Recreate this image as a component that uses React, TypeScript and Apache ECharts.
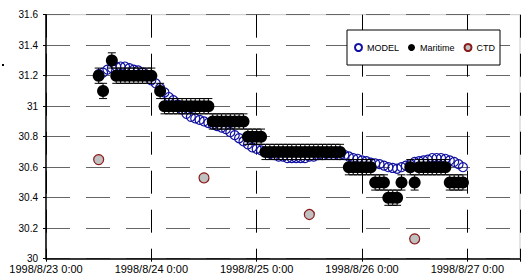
import React, { useEffect, useRef } from 'react';
import * as echarts from 'echarts';

// Hours are counted from 1998/8/23 0:00
const xTickLabels = ['1998/8/23 0:00', '1998/8/24 0:00', '1998/8/25 0:00', '1998/8/26 0:00', '1998/8/27 0:00'];

const modelHours = [
  12, 13, 14, 15, 16, 17, 18, 19, 20, 21, 22, 23, 24, 25, 26, 27, 28, 29, 30, 31, 32, 33, 34, 35,
  36, 37, 38, 39, 40, 41, 42, 43, 44, 45, 46, 47, 48, 49, 50, 51, 52, 53, 54, 55, 56, 57, 58, 59,
  60, 61, 62, 63, 64, 65, 66, 67, 68, 69, 70, 71, 72, 73, 74, 75, 76, 77, 78, 79, 80, 81, 82, 83,
  84, 85, 86, 87, 88, 89, 90, 91, 92, 93, 94, 95,
];
const modelValues = [
  31.21, 31.22, 31.24, 31.25, 31.26, 31.26, 31.26, 31.25, 31.24, 31.235, 31.22, 31.2, 31.17, 31.15, 31.12, 31.09, 31.06, 31.04, 31.01, 30.98, 30.95, 30.93, 30.92, 30.91,
  30.9, 30.89, 30.88, 30.87, 30.86, 30.85, 30.83, 30.81, 30.79, 30.77, 30.75, 30.73, 30.72, 30.71, 30.7, 30.69, 30.68, 30.67, 30.67, 30.66, 30.66, 30.66, 30.66, 30.66,
  30.67, 30.67, 30.68, 30.68, 30.69, 30.69, 30.69, 30.68, 30.68, 30.67, 30.66, 30.655, 30.645, 30.64, 30.63, 30.625, 30.62, 30.61, 30.6, 30.595, 30.59, 30.6, 30.61, 30.62,
  30.635, 30.64, 30.645, 30.65, 30.66, 30.66, 30.66, 30.655, 30.645, 30.635, 30.62, 30.6,
];

const maritimeHours = [
  12, 13, 15, 16, 17, 18, 19, 20, 21, 22, 23, 24, 26, 27, 28, 29, 30, 31, 32, 33, 34, 35, 36,
  37, 38, 39, 40, 41, 42, 43, 44, 45, 46, 47, 48, 49, 50, 51, 52, 53, 54, 55, 56, 57, 58, 59,
  60, 61, 62, 63, 64, 65, 66, 67, 69, 70, 71, 72, 73, 74, 75, 76, 77, 78, 79, 80, 81, 83, 84,
  85, 86, 87, 88, 89, 90, 91, 92, 93, 94, 95,
];
const maritimeValues = [
  31.2, 31.1, 31.3, 31.2, 31.2, 31.2, 31.2, 31.2, 31.2, 31.2, 31.2, 31.2, 31.1, 31.0, 31.0, 31.0, 31.0, 31.0, 31.0, 31.0, 31.0, 31.0, 31.0, 31.0,
  30.9, 30.9, 30.9, 30.9, 30.9, 30.9, 30.9, 30.9, 30.8, 30.8, 30.8, 30.8, 30.7, 30.7, 30.7, 30.7, 30.7, 30.7, 30.7, 30.7, 30.7, 30.7,
  30.7, 30.7, 30.7, 30.7, 30.7, 30.7, 30.7, 30.7, 30.6, 30.6, 30.6, 30.6, 30.6, 30.6, 30.5, 30.5, 30.5, 30.4, 30.4, 30.4, 30.5, 30.6, 30.5,
  30.6, 30.6, 30.6, 30.6, 30.6, 30.6, 30.6, 30.5, 30.5, 30.5, 30.5,
];
const maritimeError = 0.05;

const ctdHours = [12, 36, 60, 84];
const ctdValues = [30.65, 30.53, 30.29, 30.13];

const FONT = '"Liberation Sans", Arial, sans-serif';

export default function App() {
  const ref = useRef<HTMLDivElement>(null);
  useEffect(() => {
    if (!ref.current) return;
    const chart = echarts.init(ref.current, null, { renderer: 'svg', width: 523, height: 279 });
    const modelData = modelHours.map((h, i) => [h, modelValues[i]]);
    const maritimeData = maritimeHours.map((h, i) => [h, maritimeValues[i]]);
    const ctdData = ctdHours.map((h, i) => [h, ctdValues[i]]);

    chart.setOption({
      animation: false,
      backgroundColor: '#fff',
      textStyle: { fontFamily: FONT },
      grid: {
        left: 46, top: 14.7, width: 480, height: 244,
        show: true, borderColor: '#c8c8c8', borderWidth: 1, backgroundColor: 'transparent',
      },
      legend: {
        data: ['MODEL', 'Maritime', 'CTD'],
        left: 347, top: 30,
        orient: 'horizontal',
        padding: [13, 5, 13, 7],
        itemGap: 9,
        itemWidth: 7, itemHeight: 7,
        backgroundColor: '#fff',
        borderColor: '#000', borderWidth: 1,
        textStyle: { fontSize: 9, color: '#000', fontFamily: FONT },
      },
      xAxis: {
        type: 'value', min: 0, max: 108, interval: 24,
        axisLine: { show: true, onZero: false, lineStyle: { color: '#000', width: 1.5 } },
        axisTick: { show: true, length: 3, lineStyle: { color: '#000' } },
        axisLabel: {
          margin: 4.8, fontSize: 11, lineHeight: 11, color: '#000', fontFamily: FONT,
          formatter: (v: number) => (v % 24 === 0 ? xTickLabels[v / 24] ?? '' : ''),
        },
        splitLine: { show: true, lineStyle: { color: '#000', width: 1, type: [23, 16] } },
      },
      yAxis: {
        type: 'value', min: 30, max: 31.6, interval: 0.2,
        axisLine: { show: true, lineStyle: { color: '#000', width: 1.5 } },
        axisTick: { show: true, length: 3, lineStyle: { color: '#000' } },
        axisLabel: { margin: 8, fontSize: 10, lineHeight: 9, color: '#000', fontFamily: FONT },
        splitLine: { show: true, lineStyle: { color: '#666', width: 1, type: [24, 16] } },
      },
      graphic: [
        { type: 'rect', shape: { x: 2, y: 64, width: 2, height: 2 }, style: { fill: '#000' } },
      ],
      series: [
        {
          name: 'MODEL', type: 'scatter', data: modelData,
          symbol: 'circle', symbolSize: 9, z: 2,
          itemStyle: { color: 'transparent', borderColor: '#1010a0', borderWidth: 1.2, opacity: 1 },
        },
        {
          name: 'Maritime error', type: 'custom', data: maritimeData, z: 3,
          renderItem: (params: any, api: any) => {
            const x = api.value(0);
            const y = api.value(1);
            const top = api.coord([x, y + maritimeError]);
            const bot = api.coord([x, y - maritimeError]);
            const cw = 4;
            const st = { stroke: '#000', lineWidth: 1 };
            return {
              type: 'group',
              children: [
                { type: 'line', shape: { x1: top[0], y1: top[1], x2: bot[0], y2: bot[1] }, style: st },
                { type: 'line', shape: { x1: top[0] - cw, y1: top[1], x2: top[0] + cw, y2: top[1] }, style: st },
                { type: 'line', shape: { x1: bot[0] - cw, y1: bot[1], x2: bot[0] + cw, y2: bot[1] }, style: st },
              ],
            };
          },
        },
        {
          name: 'Maritime', type: 'scatter', data: maritimeData,
          symbol: 'circle', symbolSize: 12, z: 4,
          itemStyle: { color: '#000', opacity: 1 },
        },
        {
          name: 'CTD', type: 'scatter', data: ctdData,
          symbol: 'circle', symbolSize: 10, z: 5,
          itemStyle: { color: '#c0c0c0', borderColor: '#8b1a1a', borderWidth: 1.2, opacity: 1 },
        },
      ],
    });
    return () => chart.dispose();
  }, []);
  return <div ref={ref} style={{ position: 'fixed', left: 0, top: 0, width: 523, height: 279 }} />;
}
